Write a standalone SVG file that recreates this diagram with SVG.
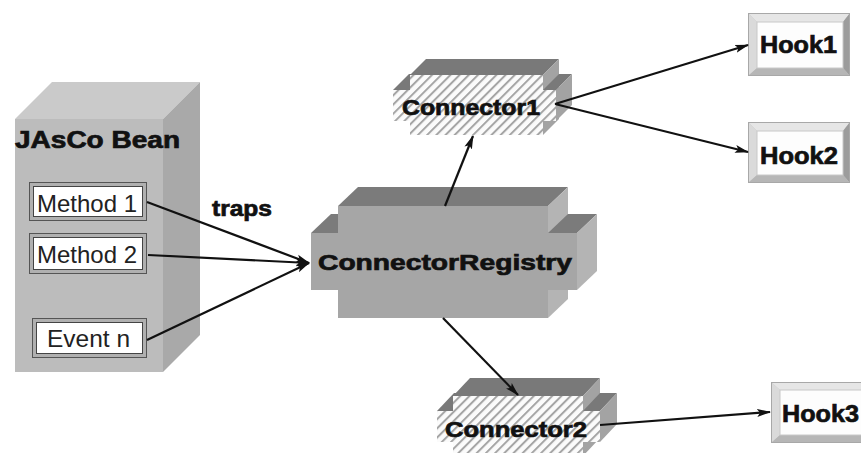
<svg xmlns="http://www.w3.org/2000/svg" width="861" height="453" viewBox="0 0 861 453">
<defs>
<style>
.lbl{font-family:"Liberation Sans",Arial,sans-serif;font-weight:bold;fill:#111;stroke:#111;stroke-width:0.7}
.mlbl{font-family:"Liberation Sans",Arial,sans-serif;fill:#222}
.edge{stroke:#111;stroke-width:2.2;fill:none;marker-end:url(#ah)}
.top{fill:#7b7b7b}
.side{fill:#b4b4b4}
.cfront{fill:#a6a6a6}
.hfront{fill:url(#hatch)}
.hside{fill:#a3a3a3}
.htop{fill:#797979}
</style>
<pattern id="hatch" patternUnits="userSpaceOnUse" width="6.5" height="6.5" patternTransform="rotate(45)">
<rect width="6.5" height="6.5" fill="#fbfbfb"/>
<rect width="2" height="6.5" fill="#a5a5a5"/>
</pattern>
<marker id="ah" viewBox="0 0 14 10" markerWidth="14" markerHeight="10" refX="13" refY="5" orient="auto" markerUnits="userSpaceOnUse">
<path d="M0,1 L14,5 L0,9 L3,5 z" fill="#111"/>
</marker>
</defs>
<rect width="861" height="453" fill="#ffffff"/>

<g id="jasco-bean">
<polygon points="15,119 52,82 200,82 163,119" fill="#cacaca"/>
<polygon points="163,119 200,82 200,335 163,372" fill="#a9a9a9"/>
<rect x="15" y="119" width="148" height="253" fill="#bcbcbc"/>
<text class="lbl" x="15" y="148" font-size="23" textLength="165" lengthAdjust="spacingAndGlyphs">JAsCo Bean</text>
</g>

<g id="method1">
<rect x="29.5" y="182.5" width="117" height="38" fill="#b0b0b0" stroke="#555"/>
<rect x="33.5" y="186.5" width="109" height="30" fill="#fff" stroke="#444"/>
<text class="mlbl" x="37" y="212" font-size="24" textLength="100" lengthAdjust="spacingAndGlyphs">Method 1</text>
</g>
<g id="method2">
<rect x="29.5" y="233.5" width="117" height="40" fill="#b0b0b0" stroke="#555"/>
<rect x="33.5" y="237.5" width="109" height="32" fill="#fff" stroke="#444"/>
<text class="mlbl" x="37" y="263" font-size="24" textLength="100" lengthAdjust="spacingAndGlyphs">Method 2</text>
</g>
<g id="event-n">
<rect x="32.5" y="318.5" width="114" height="39" fill="#b0b0b0" stroke="#555"/>
<rect x="36.5" y="322.5" width="106" height="31" fill="#fff" stroke="#444"/>
<text class="mlbl" x="47" y="347" font-size="24" textLength="83" lengthAdjust="spacingAndGlyphs">Event n</text>
</g>

<g id="connector-registry">
<rect x="311" y="233" width="27" height="57" class="cfront"/>
<polygon points="311,233 331,214 358,214 338,233" class="top"/>
<polygon points="338,206 358,187 568,187 548,206" class="top"/>
<polygon points="548,206 568,187 568,299 548,318" class="side"/>
<rect x="338" y="206" width="210" height="112" class="cfront"/>
<polygon points="548,233 568,214 597,214 577,233" class="top"/>
<polygon points="577,233 597,214 597,271 577,290" class="side"/>
<rect x="548" y="233" width="29" height="57" class="cfront"/>
<text class="lbl" x="318" y="270" font-size="22" textLength="254" lengthAdjust="spacingAndGlyphs">ConnectorRegistry</text>
</g>

<g id="connector1">
<rect x="393" y="90" width="17" height="31" class="hfront"/>
<polygon points="393,90 409,74 426,74 410,90" class="htop"/>
<polygon points="410,75 426,59 559,59 543,75" class="htop"/>
<polygon points="543,75 559,59 559,119 543,135" class="hside"/>
<rect x="410" y="75" width="133" height="60" class="hfront"/>
<polygon points="543,90 559,74 572,74 556,90" class="htop"/>
<polygon points="556,90 572,74 572,105 556,121" class="hside"/>
<rect x="543" y="90" width="13" height="31" class="hfront"/>
<text class="lbl" x="402" y="115" font-size="22" textLength="138" lengthAdjust="spacingAndGlyphs">Connector1</text>
</g>

<g id="connector2">
<rect x="437" y="411" width="16" height="31" class="hfront"/>
<polygon points="437,411 454,393 470,393 453,411" class="htop"/>
<polygon points="453,396 470,378 600,378 583,396" class="htop"/>
<polygon points="583,396 600,378 600,438 583,456" class="hside"/>
<rect x="453" y="396" width="130" height="60" class="hfront"/>
<polygon points="583,411 600,393 617,393 600,411" class="htop"/>
<polygon points="600,411 617,393 617,424 600,442" class="hside"/>
<rect x="583" y="411" width="17" height="31" class="hfront"/>
<text class="lbl" x="445" y="437" font-size="22" textLength="142" lengthAdjust="spacingAndGlyphs">Connector2</text>
</g>

<g id="hook1">
<rect x="748" y="13" width="102" height="63" fill="#c4c4c4"/>
<polygon points="748,13 850,13 843,22 757,22" fill="#e6e6e6"/>
<polygon points="748,13 757,22 757,68 748,76" fill="#dadada"/>
<polygon points="850,13 850,76 843,68 843,22" fill="#9c9c9c"/>
<polygon points="748,76 757,68 843,68 850,76" fill="#b6b6b6"/>
<rect x="748.5" y="13.5" width="101" height="62" fill="none" stroke="#a8a8a8"/>
<rect x="757" y="22" width="86" height="46" fill="#fdfdfd" stroke="#c8c8c8"/>
<text class="lbl" x="760" y="53" font-size="24" textLength="77" lengthAdjust="spacingAndGlyphs">Hook1</text>
</g>
<g id="hook2">
<rect x="748" y="122" width="102" height="61" fill="#c4c4c4"/>
<polygon points="748,122 850,122 843,131 757,131" fill="#e6e6e6"/>
<polygon points="748,122 757,131 757,175 748,183" fill="#dadada"/>
<polygon points="850,122 850,183 843,175 843,131" fill="#9c9c9c"/>
<polygon points="748,183 757,175 843,175 850,183" fill="#b6b6b6"/>
<rect x="748.5" y="122.5" width="101" height="60" fill="none" stroke="#a8a8a8"/>
<rect x="757" y="131" width="86" height="44" fill="#fdfdfd" stroke="#c8c8c8"/>
<text class="lbl" x="760" y="164" font-size="24" textLength="78" lengthAdjust="spacingAndGlyphs">Hook2</text>
</g>
<g id="hook3">
<rect x="771" y="382" width="102" height="61" fill="#c4c4c4"/>
<polygon points="771,382 873,382 866,390 780,390" fill="#e6e6e6"/>
<polygon points="771,382 780,390 780,435 771,443" fill="#dadada"/>
<polygon points="771,443 780,435 866,435 873,443" fill="#b6b6b6"/>
<rect x="771.5" y="382.5" width="101" height="60" fill="none" stroke="#a8a8a8"/>
<rect x="780" y="390" width="86" height="45" fill="#fdfdfd" stroke="#c8c8c8"/>
<text class="lbl" x="782" y="422" font-size="24" textLength="77" lengthAdjust="spacingAndGlyphs">Hook3</text>
</g>

<g id="connectors">
<line class="edge" x1="147" y1="202" x2="309" y2="263"/>
<line class="edge" x1="148" y1="255" x2="309" y2="263"/>
<line class="edge" x1="147" y1="340" x2="309" y2="263"/>
<line class="edge" x1="445" y1="206" x2="473" y2="136"/>
<line class="edge" x1="555" y1="104" x2="748" y2="45"/>
<line class="edge" x1="555" y1="104" x2="748" y2="152"/>
<line class="edge" x1="443" y1="318" x2="518" y2="395"/>
<line class="edge" x1="600" y1="425" x2="770" y2="412"/>
<text class="lbl" x="212" y="216" font-size="22" textLength="60" lengthAdjust="spacingAndGlyphs">traps</text>
</g>
</svg>
